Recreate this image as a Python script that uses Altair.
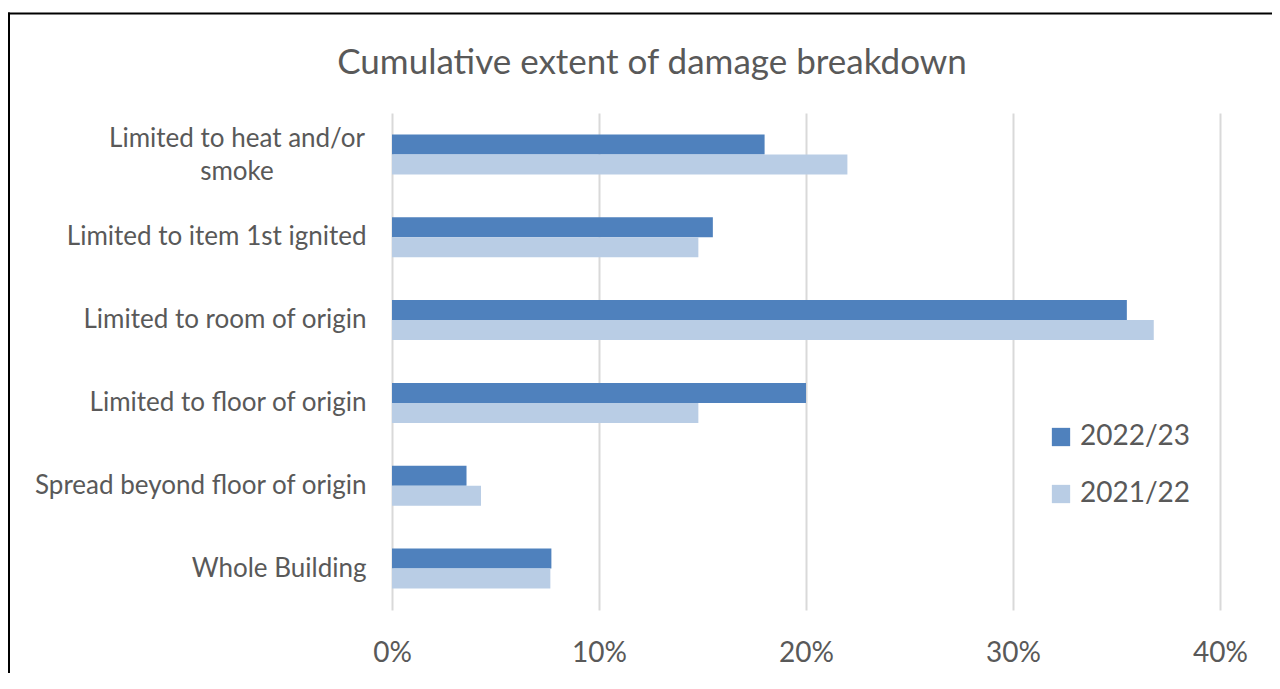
import altair as alt
import pandas as pd

categories = [
    "Limited to heat and/or smoke",
    "Limited to item 1st ignited",
    "Limited to room of origin",
    "Limited to floor of origin",
    "Spread beyond floor of origin",
    "Whole Building",
]
series_names = ["2022/23", "2021/22"]
values_2022_23 = [18.0, 15.5, 35.5, 20.0, 3.6, 7.7]
values_2021_22 = [22.0, 14.8, 36.8, 14.8, 4.3, 7.65]
x_ticks = [0, 10, 20, 30, 40]
title_text = "Cumulative extent of damage breakdown"

rows = []
for c, a, b in zip(categories, values_2022_23, values_2021_22):
    rows.append({"category": c, "series": series_names[0], "value": a})
    rows.append({"category": c, "series": series_names[1], "value": b})
df = pd.DataFrame(rows)

FONT = "Lato"
GREY = "#595959"
first = categories[0]
is_first = "datum.value == '%s'" % first

bars = alt.Chart(df).mark_bar().encode(
    y=alt.Y(
        "category:N",
        sort=categories,
        scale=alt.Scale(paddingInner=0.517, paddingOuter=0.2585),
        axis=alt.Axis(
            title=None,
            domain=False,
            ticks=False,
            tickSize=0,
            grid=False,
            labelFont=FONT,
            labelFontSize=26,
            labelColor=GREY,
            labelLimit=400,
            labelLineHeight=33,
            labelExpr="datum.value == '%s' ? ['Limited to heat and/or', 'smoke'] : datum.value" % first,
            labelAlign={"condition": {"test": is_first, "value": "center"}, "value": "right"},
            labelPadding={"condition": {"test": is_first, "value": 155.5}, "value": 26},
            labelOffset={"condition": {"test": is_first, "value": -15}, "value": 0},
        ),
    ),
    yOffset=alt.YOffset("series:N", sort=series_names),
    x=alt.X(
        "value:Q",
        scale=alt.Scale(domain=[0, 40], nice=False),
        axis=alt.Axis(
            title=None,
            values=x_ticks,
            labelExpr="datum.value + '%'",
            labelFlush=False,
            domain=False,
            ticks=False,
            tickSize=0,
            grid=True,
            gridColor="#D9D9D9",
            gridWidth=2,
            labelFont=FONT,
            labelFontSize=28,
            labelColor=GREY,
            labelPadding=29,
        ),
    ),
    color=alt.Color(
        "series:N",
        sort=series_names,
        scale=alt.Scale(domain=series_names, range=["#4F81BD", "#B9CDE5"]),
        legend=alt.Legend(
            title=None,
            orient="none",
            legendX=655,
            legendY=310,
            symbolType="square",
            symbolSize=335,
            symbolStrokeWidth=0,
            labelFont=FONT,
            labelFontSize=28,
            labelColor=GREY,
            labelOffset=5,
            rowPadding=29,
            padding=0,
        ),
    ),
)

title_src = pd.DataFrame({"t": [title_text]})
title_mark = alt.Chart(title_src).mark_text(
    font=FONT, fontSize=35, color=GREY, align="center", baseline="middle"
).encode(text="t:N", x=alt.value(260), y=alt.value(-50))

frame_src = pd.DataFrame({"k": [0]})
top_line = alt.Chart(frame_src).mark_rule(color="black", strokeWidth=2).encode(
    x=alt.value(-384), x2=alt.value(880), y=alt.value(-99.5)
)
left_line = alt.Chart(frame_src).mark_rule(color="black", strokeWidth=2).encode(
    x=alt.value(-383), y=alt.value(-100.5), y2=alt.value(560)
)

chart = alt.layer(bars, title_mark, top_line, left_line).properties(
    width=828,
    height=497,
    autosize=alt.AutoSizeParams(type="none"),
    padding={"left": 384, "top": 105, "right": 52, "bottom": 63},
).configure_view(stroke=None)

chart.save("out.html", embed_options={"renderer": "svg", "actions": False})
